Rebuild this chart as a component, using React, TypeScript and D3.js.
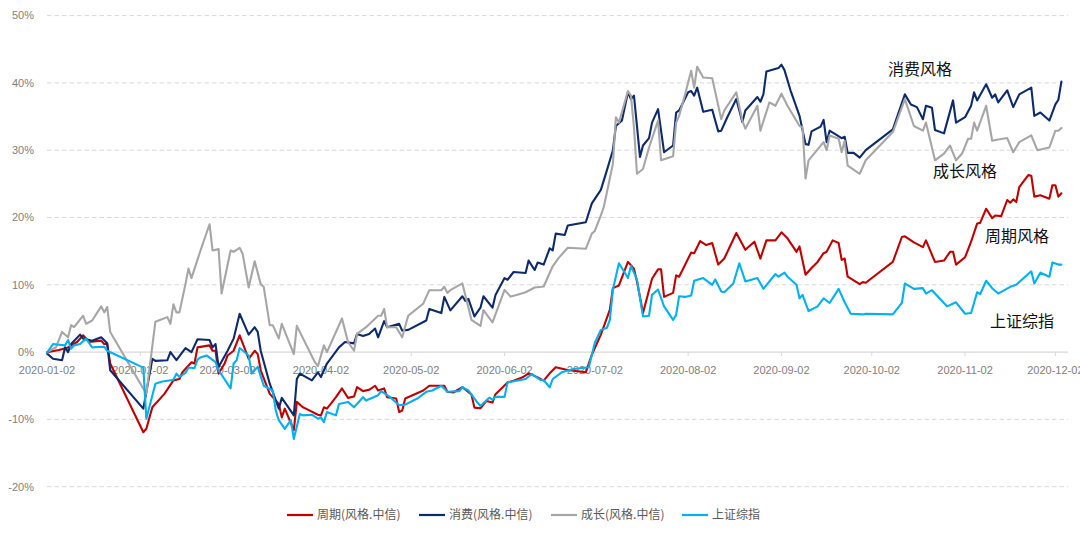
import React from 'react';
import * as d3 from 'd3';

// ---- DATA (values in %) ----
const redDates = ['01-02','01-06','01-09','01-10','01-12','01-14','01-16','01-20','01-21','01-22','01-23','02-03','02-04','02-06','02-10','02-13','02-15','02-16','02-19','02-20','02-21','02-25','02-26','02-27','02-28','03-01','03-02','03-04','03-06','03-09','03-11','03-12','03-13','03-16','03-19','03-20','03-21','03-24','03-25','03-27','03-28','04-01','04-02','04-03','04-04','04-07','04-09','04-11','04-13','04-14','04-16','04-18','04-20','04-21','04-23','04-24','04-27','04-28','04-29','04-30','05-06','05-08','05-13','05-14','05-16','05-19','05-22','05-23','05-25','05-27','05-29','05-30','06-03','06-05','06-08','06-10','06-13','06-15','06-17','06-19','06-23','06-29','07-01','07-04','07-07','07-08','07-10','07-13','07-15','07-16','07-18','07-21','07-23','07-24','07-25','07-28','07-29','07-30','08-03','08-04','08-06','08-08','08-10','08-12','08-14','08-18','08-21','08-24','08-26','08-28','08-31','09-02','09-04','09-07','09-08','09-10','09-12','09-14','09-16','09-17','09-19','09-21','09-22','09-23','09-24','09-28','09-29','09-30','10-09','10-12','10-13','10-16','10-19','10-20','10-23','10-26','10-28','10-29','10-30','11-02','11-04','11-06','11-07','11-09','11-11','11-12','11-14','11-16','11-17','11-18','11-19','11-20','11-23','11-24','11-25','11-27','11-30','12-01','12-02','12-03','12-04'];
const redValues = [0,0.3,0.7,1.0,1.5,2.5,1.5,1.7,1.2,1.2,-1.7,-11.9,-11.4,-8.2,-6.2,-4.2,-4.0,-3.0,-1.5,-1.7,0.7,1.0,0.2,0.2,-3.2,-1.7,-0.5,0.2,2.5,-1.0,0.2,-0.3,-2.7,-6.2,-7.7,-9.7,-8.4,-11.6,-7.4,-8.2,-8.4,-9.3,-9.4,-8.2,-8.4,-6.7,-5.4,-6.8,-6.6,-5.2,-5.8,-5.6,-5.0,-5.7,-5.4,-6.7,-6.9,-8.9,-8.7,-6.9,-5.7,-5.0,-5.0,-5.9,-6.0,-5.2,-6.3,-8.25,-8.35,-7.25,-7.5,-6.25,-4.5,-4.25,-3.75,-3.15,-3.75,-4.25,-3.15,-2.25,-2.65,-3.0,-0.4,2.6,6.3,9.5,9.9,13.4,12.4,10.5,5.8,10.9,12.3,12.3,8.2,8.8,11.4,11.2,14.8,14.7,16.5,15.9,16.2,13.0,13.9,17.7,15.2,16.4,13.9,16.6,16.6,17.8,16.9,14.9,15.7,11.5,12.5,13.4,14.7,14.9,16.6,16.2,13.7,13.9,11.2,10.1,10.4,10.3,13.4,17.1,17.2,16.3,15.6,16.6,13.4,13.6,14.9,14.9,13.0,14.1,16.4,19.1,19.2,21.3,19.9,20.3,20.2,22.6,22.2,22.7,22.3,24.5,26.3,26.2,23.1,23.3,22.8,24.8,24.8,23.1,23.6];

const navyDates = ['01-02','01-04','01-07','01-08','01-09','01-10','01-13','01-14','01-17','01-20','01-22','01-23','02-03','02-06','02-07','02-11','02-12','02-14','02-17','02-19','02-21','02-25','02-26','02-27','02-28','03-02','03-04','03-06','03-09','03-11','03-12','03-13','03-16','03-19','03-20','03-24','03-25','03-26','03-30','04-01','04-02','04-04','04-08','04-10','04-13','04-14','04-16','04-18','04-20','04-21','04-23','04-24','04-28','04-29','05-01','05-07','05-08','05-12','05-13','05-15','05-19','05-20','05-21','05-23','05-25','05-26','05-29','05-30','06-02','06-03','06-05','06-09','06-10','06-12','06-13','06-15','06-17','06-18','06-19','06-22','06-23','06-29','07-01','07-04','07-06','07-08','07-09','07-11','07-13','07-14','07-15','07-17','07-18','07-20','07-21','07-23','07-25','07-28','07-29','07-30','08-02','08-03','08-04','08-05','08-07','08-10','08-12','08-13','08-15','08-18','08-20','08-21','08-25','08-26','08-27','08-28','09-01','09-02','09-03','09-05','09-08','09-10','09-11','09-12','09-15','09-16','09-17','09-18','09-22','09-23','09-24','09-26','09-28','09-30','10-09','10-13','10-15','10-17','10-19','10-20','10-22','10-23','10-26','10-29','10-30','11-02','11-04','11-05','11-06','11-09','11-11','11-12','11-13','11-16','11-18','11-20','11-24','11-25','11-27','11-30','12-02','12-03','12-04'];
const navyValues = [-0.2,-1.0,-1.2,0.7,0.0,1.2,2.6,2.0,1.7,2.2,1.3,-2.7,-8.4,-1.0,-1.3,-1.2,0.0,-1.2,0.6,0.0,1.9,1.8,0.7,1.2,-2.2,0.2,2.0,5.7,2.6,3.7,3.0,0.2,-4.7,-8.4,-6.8,-9.4,-4.0,-3.2,-4.2,-3.0,-3.7,-1.7,0.7,1.5,1.3,2.7,2.4,2.7,3.5,2.2,4.6,3.7,4.2,3.2,3.3,4.7,6.4,5.8,8.2,6.2,8.3,7.6,7.9,5.3,6.6,8.3,6.6,8.5,11.0,10.75,11.9,11.75,13.6,12.2,13.3,13.0,15.4,15.1,17.6,17.4,18.8,19.3,22.1,24.1,27.0,30.0,33.6,34.4,38.6,37.6,38.1,29.0,30.7,31.8,34.1,36.1,29.7,30.7,35.6,35.9,38.6,38.8,38.1,39.3,35.7,36.0,32.8,32.9,34.9,37.6,34.2,35.9,37.9,37.2,38.3,41.7,42.2,42.7,41.9,38.9,35.1,30.9,30.8,32.8,33.5,34.5,31.2,32.9,31.8,32.0,29.6,29.6,28.9,30.0,33.1,38.3,36.8,36.4,34.6,36.6,36.3,33.0,32.5,37.4,34.1,34.9,36.6,38.6,37.4,39.8,37.8,38.3,37.1,38.9,36.4,38.3,39.3,35.1,35.6,34.4,36.8,37.5,40.2];

const grayDates = ['01-02','01-05','01-07','01-09','01-10','01-11','01-14','01-15','01-17','01-20','01-21','01-22','01-23','02-04','02-07','02-11','02-12','02-13','02-14','02-15','02-17','02-18','02-19','02-22','02-25','02-26','02-28','02-29','03-03','03-04','03-06','03-07','03-09','03-11','03-13','03-14','03-16','03-17','03-19','03-20','03-24','03-25','03-31','04-01','04-03','04-04','04-09','04-11','04-13','04-14','04-17','04-21','04-22','04-23','04-24','04-27','04-29','05-01','05-06','05-08','05-12','05-13','05-14','05-15','05-19','05-22','05-25','05-26','05-29','06-02','06-04','06-06','06-09','06-12','06-15','06-16','06-18','06-20','06-23','06-29','07-01','07-02','07-04','07-05','07-08','07-09','07-10','07-13','07-14','07-15','07-16','07-18','07-20','07-23','07-24','07-28','07-29','07-30','08-01','08-03','08-04','08-05','08-07','08-10','08-13','08-14','08-18','08-20','08-21','08-25','08-26','08-29','08-31','09-02','09-04','09-08','09-09','09-10','09-11','09-16','09-17','09-18','09-21','09-22','09-23','09-24','09-28','09-30','10-09','10-13','10-16','10-19','10-20','10-23','10-26','10-28','10-30','11-01','11-03','11-04','11-05','11-06','11-09','11-11','11-13','11-16','11-18','11-20','11-24','11-26','11-30','12-02','12-03','12-04'];
const grayValues = [0,0.7,3.0,2.2,4.0,3.7,5.4,4.2,4.7,6.8,5.9,6.7,3.0,-6.2,4.5,5.2,4.2,7.1,5.9,5.9,10.1,12.4,11.0,15.1,19.0,15.1,15.3,8.7,15.1,14.9,15.5,14.6,9.6,13.5,10.1,9.7,4.0,4.0,2.0,4.2,-0.3,3.9,-1.5,-2.1,1.0,0.0,5.0,1.5,0.2,2.7,3.7,5.4,5.4,6.4,3.7,3.7,2.2,5.4,7.2,9.2,9.2,9.7,8.8,9.2,10.2,4.8,3.9,6.25,4.4,9.25,8.25,8.5,8.9,9.6,9.75,10.75,12.75,14.0,15.5,15.35,17.6,18.0,20.3,21.6,28.0,34.9,34.1,38.8,38.1,33.4,26.5,27.2,30.4,34.4,28.5,29.1,34.1,35.1,38.3,41.8,39.3,42.4,40.8,40.7,34.6,35.9,38.6,34.4,33.2,36.6,32.9,37.1,36.6,38.4,36.6,33.6,33.4,25.8,28.5,31.2,30.0,32.2,31.7,29.7,31.4,27.7,26.5,28.5,32.7,37.6,33.6,32.9,34.1,28.5,29.5,30.7,28.5,29.5,31.7,31.7,34.1,32.9,36.6,31.4,31.6,31.8,29.7,31.2,32.2,30.0,30.4,32.9,32.9,33.3];

const cyanDates = ['01-02','01-04','01-06','01-08','01-09','01-10','01-11','01-13','01-15','01-17','01-21','01-22','02-03','02-04','02-07','02-09','02-13','02-14','02-15','02-17','02-18','02-20','02-21','02-22','02-24','02-27','02-28','03-03','03-04','03-05','03-06','03-09','03-10','03-12','03-14','03-17','03-18','03-19','03-21','03-23','03-24','03-26','03-27','03-30','04-01','04-02','04-03','04-04','04-07','04-08','04-11','04-13','04-16','04-17','04-21','04-22','04-23','04-25','04-28','04-30','05-04','05-07','05-09','05-12','05-14','05-18','05-19','05-21','05-24','05-25','05-28','05-29','05-30','06-02','06-03','06-06','06-09','06-11','06-14','06-15','06-17','06-18','06-21','06-25','06-30','07-02','07-04','07-06','07-07','07-08','07-10','07-13','07-14','07-16','07-18','07-20','07-21','07-23','07-25','07-28','07-29','07-30','08-01','08-03','08-04','08-07','08-10','08-11','08-13','08-14','08-17','08-19','08-21','08-25','08-27','08-31','09-01','09-03','09-04','09-07','09-08','09-09','09-11','09-14','09-16','09-18','09-21','09-23','09-25','09-29','09-30','10-09','10-12','10-13','10-16','10-19','10-20','10-22','10-27','10-30','11-02','11-04','11-06','11-07','11-09','11-11','11-13','11-17','11-19','11-24','11-25','11-27','11-30','12-01','12-03','12-04'];
const cyanValues = [-0.1,1.2,1.1,1.0,1.8,0.5,1.0,1.2,2.0,0.7,0.8,0.2,-2.3,-9.9,-4.7,-4.4,-4.1,-3.2,-3.7,-3.1,-2.3,-2.4,-1.1,-0.8,-0.5,-1.5,-2.7,-5.4,-1.7,-1.2,0.6,-0.5,-3.2,-2.2,-5.0,-5.7,-8.7,-10.1,-11.4,-10.1,-12.9,-9.2,-9.4,-9.3,-9.9,-9.7,-10.4,-8.9,-9.4,-7.7,-7.4,-8.2,-6.7,-7.2,-6.4,-5.8,-6.1,-6.7,-7.9,-7.8,-6.9,-5.9,-5.7,-5.0,-5.9,-5.8,-5.2,-5.7,-7.5,-8.0,-6.75,-7.1,-6.65,-6.65,-4.5,-4.25,-4.0,-3.25,-4.15,-4.15,-5.25,-4.0,-3.0,-2.5,-2.25,1.4,3.3,3.6,4.8,9.3,13.2,11.0,12.8,10.8,5.3,5.4,8.5,9.3,6.8,4.8,5.5,8.3,8.2,8.4,10.6,11.0,10.0,10.8,9.0,8.9,10.2,13.2,10.5,11.0,9.4,11.6,11.2,11.8,11.2,10.0,8.0,8.5,6.1,6.8,8.0,7.3,9.4,7.4,5.7,5.6,5.7,5.6,7.3,10.2,9.4,9.5,8.7,9.2,6.8,7.4,5.7,5.8,8.9,8.6,10.6,9.5,8.7,9.7,10.0,12.0,10.2,11.8,11.2,13.3,13.0,13.0];

const seriesNames = ['周期(风格.中信)', '消费(风格.中信)', '成长(风格.中信)', '上证综指'];
const seriesColors = ['#C00000', '#0D2A6B', '#A6A6A6', '#00B0F0'];
const annotationLabels = ['消费风格', '成长风格', '周期风格', '上证综指'];

const xTickDates = ['01-02','02-02','03-02','04-02','05-02','06-02','07-02','08-02','09-02','10-02','11-02','12-02'];
const yTicks = [-20, -10, 0, 10, 20, 30, 40, 50];

const parse = d3.timeParse('%Y-%m-%d');
const toDate = (s: string) => parse('2020-' + s) as Date;

export default function App() {
  const W = 1080, H = 536;
  const x = d3.scaleTime().domain([toDate('01-02'), toDate('12-04')]).range([47, 1061.4]);
  const y = d3.scaleLinear().domain([-20, 50]).range([486.7, 15.6]);
  const gridX0 = 47, gridX1 = 1068;

  const allSeries = [
    { dates: redDates, values: redValues },
    { dates: navyDates, values: navyValues },
    { dates: grayDates, values: grayValues },
    { dates: cyanDates, values: cyanValues },
  ];

  const line = d3.line<[Date, number]>().x(d => x(d[0])).y(d => y(d[1]));

  const legendX = [287, 419, 551, 682];
  const annoPos = [[888, 75], [933, 177], [985, 242], [990, 327]];

  return (
    <svg width={W} height={H} style={{ position: 'absolute', left: 0, top: 0, background: '#fff' }}
      fontFamily="'Liberation Sans', Arial, sans-serif">
      {/* grid */}
      {yTicks.map(t => (
        <g key={t}>
          {t !== 0 && (
            <line x1={gridX0} x2={gridX1} y1={y(t)} y2={y(t)} stroke="#D9D9D9" strokeWidth={1} strokeDasharray="4.5 3" />
          )}
          <text x={34} y={y(t)} dy="0.35em" textAnchor="end" fontSize={11} fill="#808080">{t}%</text>
        </g>
      ))}
      {/* x axis */}
      <line x1={gridX0} x2={gridX1} y1={y(0)} y2={y(0)} stroke="#D9D9D9" strokeWidth={1.2} />
      {xTickDates.map(d => {
        const xx = x(toDate(d));
        return (
          <g key={d}>
            <line x1={xx} x2={xx} y1={y(0)} y2={y(0) + 4} stroke="#D9D9D9" strokeWidth={1} />
            <text x={xx} y={374} textAnchor="middle" fontSize={11} fill="#808080">{'2020-' + d}</text>
          </g>
        );
      })}
      {/* series */}
      {allSeries.map((s, i) => {
        const pts: [Date, number][] = s.dates.map((d, j) => [toDate(d), s.values[j]]);
        return (
          <path key={i} d={line(pts) || ''} fill="none" stroke={seriesColors[i]} strokeWidth={2.1}
            strokeLinejoin="round" strokeLinecap="round" />
        );
      })}
      {/* annotations */}
      {annotationLabels.map((t, i) => (
        <text key={t} x={annoPos[i][0]} y={annoPos[i][1]} fontSize={16} fill="#111"
          fontFamily="'Noto Sans CJK SC', sans-serif">{t}</text>
      ))}
      {/* legend */}
      {seriesNames.map((n, i) => (
        <g key={n}>
          <line x1={legendX[i]} x2={legendX[i] + 26} y1={515} y2={515} stroke={seriesColors[i]} strokeWidth={2.2} />
          <text x={legendX[i] + 30} y={515} dy="0.35em" fontSize={12} fill="#595959"
            fontFamily="'Noto Sans CJK SC', sans-serif">{n}</text>
        </g>
      ))}
    </svg>
  );
}
